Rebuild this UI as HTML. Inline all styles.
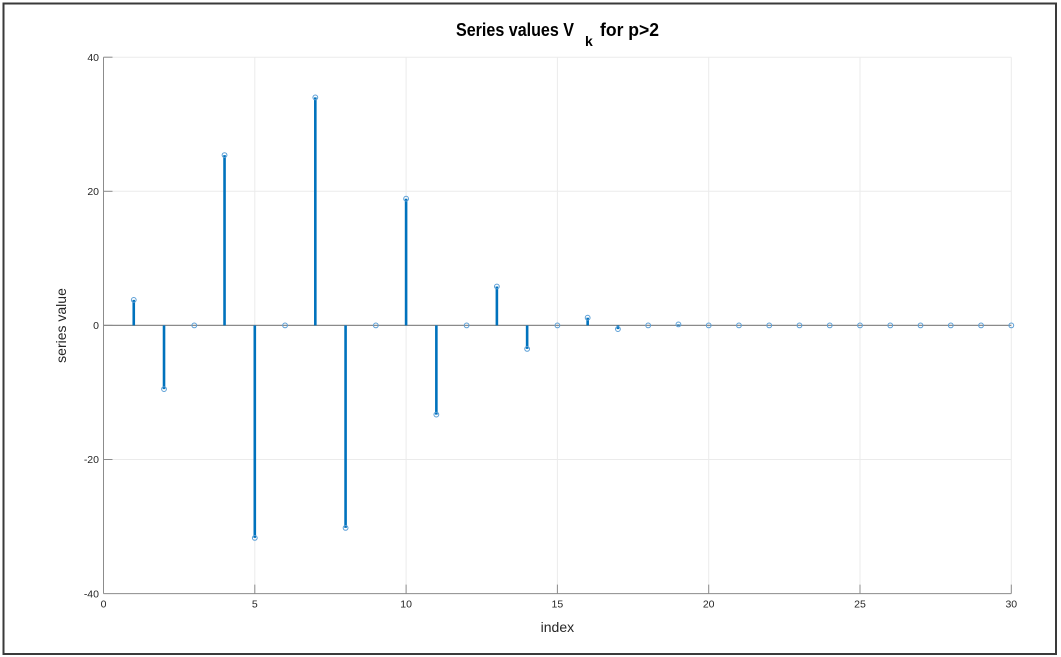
<!DOCTYPE html>
<html>
<head>
<meta charset="utf-8">
<style>
html,body{margin:0;padding:0;background:#fff;}
svg{display:block;}
text{font-family:"Liberation Sans",Arial,sans-serif;fill:#262626;}
</style>
</head>
<body>
<svg width="1061" height="657" viewBox="0 0 1061 657" xmlns="http://www.w3.org/2000/svg">
<rect x="0" y="0" width="1061" height="657" fill="#fff"/>
<rect x="3.5" y="3.5" width="1052.5" height="650.5" fill="none" stroke="#3a3a3a" stroke-width="2"/>

<!-- grid -->
<g stroke="#ebebeb" stroke-width="1">
<line x1="254.8" y1="57.2" x2="254.8" y2="593.6"/>
<line x1="406.1" y1="57.2" x2="406.1" y2="593.6"/>
<line x1="557.4" y1="57.2" x2="557.4" y2="593.6"/>
<line x1="708.7" y1="57.2" x2="708.7" y2="593.6"/>
<line x1="860" y1="57.2" x2="860" y2="593.6"/>
<line x1="1011.3" y1="57.2" x2="1011.3" y2="593.6"/>
<line x1="103.5" y1="57.2" x2="1011.3" y2="57.2"/>
<line x1="103.5" y1="191.3" x2="1011.3" y2="191.3"/>
<line x1="103.5" y1="459.5" x2="1011.3" y2="459.5"/>
</g>

<!-- axes -->
<g stroke="#8c8c8c" stroke-width="1" fill="none">
<line x1="103.5" y1="57.2" x2="103.5" y2="593.6"/>
<line x1="103.5" y1="593.6" x2="1011.3" y2="593.6"/>
<!-- y ticks -->
<line x1="103.5" y1="57.2" x2="112.5" y2="57.2"/>
<line x1="103.5" y1="191.3" x2="112.5" y2="191.3"/>
<line x1="103.5" y1="325.4" x2="112.5" y2="325.4"/>
<line x1="103.5" y1="459.5" x2="112.5" y2="459.5"/>
<!-- x ticks -->
<line x1="254.8" y1="593.6" x2="254.8" y2="584.6"/>
<line x1="406.1" y1="593.6" x2="406.1" y2="584.6"/>
<line x1="557.4" y1="593.6" x2="557.4" y2="584.6"/>
<line x1="708.7" y1="593.6" x2="708.7" y2="584.6"/>
<line x1="860" y1="593.6" x2="860" y2="584.6"/>
<line x1="1011.3" y1="593.6" x2="1011.3" y2="584.6"/>
</g>

<!-- baseline -->
<line x1="103.5" y1="325.4" x2="1011.3" y2="325.4" stroke="#8a8a8a" stroke-width="1.2"/>

<!-- stems -->
<g stroke="#0072BD" stroke-width="2.6">
<line x1="133.76" y1="325.4" x2="133.76" y2="299.9"/>
<line x1="164.02" y1="325.4" x2="164.02" y2="389.1"/>
<line x1="224.54" y1="325.4" x2="224.54" y2="155.1"/>
<line x1="254.8" y1="325.4" x2="254.8" y2="537.9"/>
<line x1="315.32" y1="325.4" x2="315.32" y2="97.4"/>
<line x1="345.58" y1="325.4" x2="345.58" y2="527.9"/>
<line x1="406.1" y1="325.4" x2="406.1" y2="198.7"/>
<line x1="436.36" y1="325.4" x2="436.36" y2="414.6"/>
<line x1="496.88" y1="325.4" x2="496.88" y2="286.5"/>
<line x1="527.14" y1="325.4" x2="527.14" y2="348.9"/>
<line x1="587.66" y1="325.4" x2="587.66" y2="317.7"/>
<line x1="617.92" y1="325.4" x2="617.92" y2="329.1"/>
<line x1="678.44" y1="325.4" x2="678.44" y2="324.4"/>
</g>

<!-- markers -->
<g stroke="#5c9fd6" stroke-width="1" fill="none">
<circle cx="133.76" cy="299.9" r="2.4"/>
<circle cx="164.02" cy="389.1" r="2.4"/>
<circle cx="194.28" cy="325.4" r="2.4"/>
<circle cx="224.54" cy="155.1" r="2.4"/>
<circle cx="254.8" cy="537.9" r="2.4"/>
<circle cx="285.06" cy="325.4" r="2.4"/>
<circle cx="315.32" cy="97.4" r="2.4"/>
<circle cx="345.58" cy="527.9" r="2.4"/>
<circle cx="375.84" cy="325.4" r="2.4"/>
<circle cx="406.1" cy="198.7" r="2.4"/>
<circle cx="436.36" cy="414.6" r="2.4"/>
<circle cx="466.62" cy="325.4" r="2.4"/>
<circle cx="496.88" cy="286.5" r="2.4"/>
<circle cx="527.14" cy="348.9" r="2.4"/>
<circle cx="557.4" cy="325.4" r="2.4"/>
<circle cx="587.66" cy="317.7" r="2.4"/>
<circle cx="617.92" cy="329.1" r="2.4"/>
<circle cx="648.18" cy="325.4" r="2.4"/>
<circle cx="678.44" cy="324.4" r="2.4"/>
<circle cx="708.7" cy="325.4" r="2.4"/>
<circle cx="738.96" cy="325.4" r="2.4"/>
<circle cx="769.22" cy="325.4" r="2.4"/>
<circle cx="799.48" cy="325.4" r="2.4"/>
<circle cx="829.74" cy="325.4" r="2.4"/>
<circle cx="860" cy="325.4" r="2.4"/>
<circle cx="890.26" cy="325.4" r="2.4"/>
<circle cx="920.52" cy="325.4" r="2.4"/>
<circle cx="950.78" cy="325.4" r="2.4"/>
<circle cx="981.04" cy="325.4" r="2.4"/>
<circle cx="1011.3" cy="325.4" r="2.4"/>
</g>

<!-- y tick labels -->
<g font-size="10.5" text-anchor="end">
<text x="99" y="61">40</text>
<text x="99" y="195">20</text>
<text x="99" y="329">0</text>
<text x="99" y="463">-20</text>
<text x="99" y="597.5">-40</text>
</g>

<!-- x tick labels -->
<g font-size="10.5" text-anchor="middle">
<text x="103.5" y="607.5">0</text>
<text x="254.8" y="607.5">5</text>
<text x="406.1" y="607.5">10</text>
<text x="557.4" y="607.5">15</text>
<text x="708.7" y="607.5">20</text>
<text x="860" y="607.5">25</text>
<text x="1011.3" y="607.5">30</text>
</g>

<!-- axis labels -->
<text x="557.4" y="632" font-size="14" text-anchor="middle">index</text>
<text transform="translate(66,325.5) rotate(-90)" font-size="14" text-anchor="middle">series value</text>

<!-- title -->
<g font-weight="bold" fill="#000">
<text x="456" y="36" font-size="18" font-weight="bold" textLength="118" lengthAdjust="spacingAndGlyphs" style="fill:#000">Series values V</text>
<text x="585" y="46" font-size="14" font-weight="bold" style="fill:#000">k</text>
<text x="600" y="36" font-size="18" font-weight="bold" textLength="59" lengthAdjust="spacingAndGlyphs" style="fill:#000">for p&gt;2</text>
</g>
</svg>
</body>
</html>
